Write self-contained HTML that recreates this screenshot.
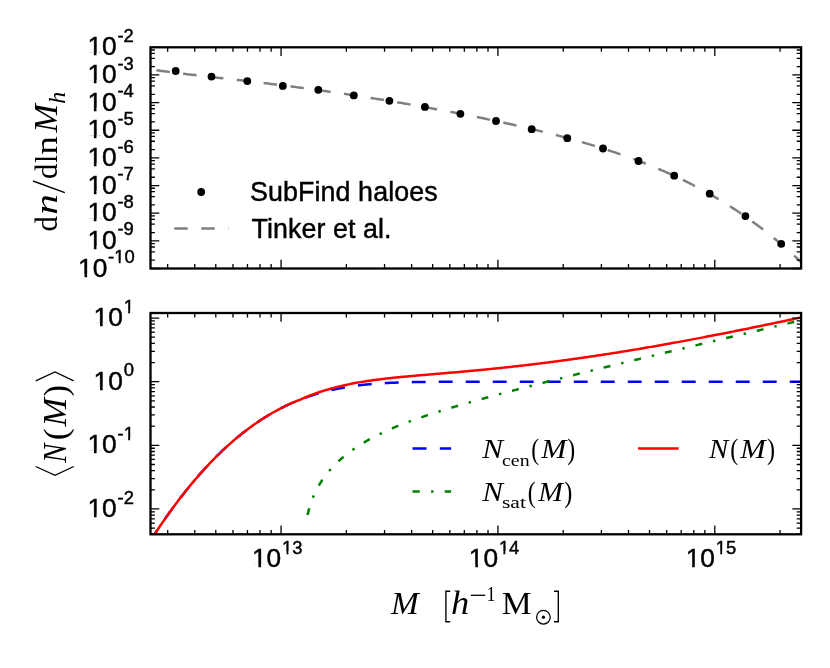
<!DOCTYPE html>
<html><head><meta charset="utf-8"><title>HOD</title>
<style>html,body{margin:0;padding:0;background:#fff;}svg{display:block;will-change:transform;}text{font-family:"Liberation Sans",sans-serif;fill:#000;stroke:#000;stroke-width:0.45px;}.s{font-family:"Liberation Serif",serif;stroke:none;}.i{font-family:"Liberation Serif",serif;font-style:italic;stroke:none;}</style></head><body>
<svg width="830" height="668" viewBox="0 0 830 668">
<rect x="0" y="0" width="830" height="668" fill="#ffffff"/>
<defs>
<clipPath id="c1"><rect x="150.5" y="47.3" width="650.6" height="221.2"/></clipPath>
<clipPath id="c2"><rect x="150.5" y="313" width="650.6" height="221.3"/></clipPath>
</defs>
<g clip-path="url(#c1)">
<path d="M156.4 70.2L158.94 70.56L161.49 70.91L164.03 71.25L166.57 71.59L169.11 71.93L171.66 72.26L174.2 72.58L176.74 72.9L179.29 73.22L181.83 73.53L184.37 73.84L186.91 74.15L189.46 74.46L192 74.76L194.54 75.06L197.09 75.36L199.63 75.65L202.17 75.95L204.71 76.24L207.26 76.53L209.8 76.83L212.34 77.12L214.89 77.41L217.43 77.7L219.97 77.98L222.51 78.27L225.06 78.56L227.6 78.85L230.14 79.14L232.69 79.43L235.23 79.72L237.77 80.01L240.31 80.31L242.86 80.6L245.4 80.89L247.94 81.19L250.49 81.48L253.03 81.78L255.57 82.08L258.11 82.38L260.66 82.68L263.2 82.99L265.74 83.29L268.29 83.6L270.83 83.91L273.37 84.22L275.91 84.54L278.46 84.85L281 85.17L283.54 85.49L286.09 85.81L288.63 86.13L291.17 86.46L293.71 86.79L296.26 87.12L298.8 87.45L301.34 87.79L303.89 88.13L306.43 88.47L308.97 88.81L311.51 89.16L314.06 89.5L316.6 89.86L319.14 90.21L321.69 90.56L324.23 90.92L326.77 91.28L329.31 91.64L331.86 92.01L334.4 92.38L336.94 92.75L339.49 93.12L342.03 93.5L344.57 93.88L347.11 94.26L349.66 94.64L352.2 95.03L354.74 95.41L357.29 95.8L359.83 96.2L362.37 96.59L364.91 96.99L367.46 97.39L370 97.8L372.54 98.2L375.09 98.61L377.63 99.02L380.17 99.44L382.71 99.85L385.26 100.27L387.8 100.69L390.34 101.11L392.89 101.54L395.43 101.97L397.97 102.4L400.51 102.83L403.06 103.27L405.6 103.7L408.14 104.14L410.69 104.59L413.23 105.03L415.77 105.48L418.31 105.93L420.86 106.38L423.4 106.84L425.94 107.3L428.49 107.76L431.03 108.22L433.57 108.69L436.11 109.15L438.66 109.62L441.2 110.1L443.74 110.57L446.29 111.05L448.83 111.53L451.37 112.02L453.91 112.51L456.46 113L459 113.49L461.54 113.98L464.09 114.48L466.63 114.99L469.17 115.49L471.71 116L474.26 116.51L476.8 117.02L479.34 117.54L481.89 118.06L484.43 118.59L486.97 119.11L489.51 119.64L492.06 120.18L494.6 120.72L497.14 121.26L499.69 121.8L502.23 122.35L504.77 122.91L507.31 123.47L509.86 124.03L512.4 124.59L514.94 125.16L517.49 125.74L520.03 126.32L522.57 126.9L525.11 127.49L527.66 128.08L530.2 128.68L532.74 129.29L535.29 129.9L537.83 130.51L540.37 131.13L542.91 131.76L545.46 132.39L548 133.02L550.54 133.67L553.09 134.32L555.63 134.97L558.17 135.63L560.71 136.3L563.26 136.98L565.8 137.66L568.34 138.35L570.89 139.04L573.43 139.75L575.97 140.46L578.51 141.18L581.06 141.9L583.6 142.64L586.14 143.38L588.69 144.14L591.23 144.9L593.77 145.67L596.31 146.44L598.86 147.23L601.4 148.03L603.94 148.84L606.49 149.65L609.03 150.48L611.57 151.32L614.11 152.16L616.66 153.02L619.2 153.89L621.74 154.77L624.29 155.67L626.83 156.57L629.37 157.49L631.91 158.41L634.46 159.35L637 160.31L639.54 161.27L642.09 162.25L644.63 163.24L647.17 164.25L649.71 165.27L652.26 166.3L654.8 167.35L657.34 168.42L659.89 169.5L662.43 170.59L664.97 171.7L667.51 172.82L670.06 173.97L672.6 175.12L675.14 176.3L677.69 177.49L680.23 178.7L682.77 179.92L685.31 181.17L687.86 182.43L690.4 183.71L692.94 185.01L695.49 186.33L698.03 187.67L700.57 189.03L703.11 190.4L705.66 191.8L708.2 193.22L710.74 194.66L713.29 196.12L715.83 197.61L718.37 199.11L720.91 200.64L723.46 202.19L726 203.76L728.54 205.35L731.09 206.97L733.63 208.62L736.17 210.29L738.71 211.98L741.26 213.69L743.8 215.44L746.34 217.2L748.89 219L751.43 220.82L753.97 222.67L756.51 224.54L759.06 226.44L761.6 228.37L764.14 230.33L766.69 232.31L769.23 234.32L771.77 236.37L774.31 238.44L776.86 240.54L779.4 242.67L781.94 244.84L784.49 247.03L787.03 249.25L789.57 251.51L792.11 253.8L794.66 256.12L797.2 258.47L799.74 260.85L802.29 263.27L804.83 265.72L807.37 268.21L809.91 270.73L812.46 273.28L815 275.87" stroke="#808080" stroke-width="2.5" fill="none" stroke-dasharray="13.5 13.5"/>
<circle cx="175.7" cy="71" r="3.9" fill="#000"/>
<circle cx="211.5" cy="76.6" r="3.9" fill="#000"/>
<circle cx="247.3" cy="81.1" r="3.9" fill="#000"/>
<circle cx="282.8" cy="85.9" r="3.9" fill="#000"/>
<circle cx="318.3" cy="89.8" r="3.9" fill="#000"/>
<circle cx="353.8" cy="95.4" r="3.9" fill="#000"/>
<circle cx="389.4" cy="100.8" r="3.9" fill="#000"/>
<circle cx="424.9" cy="106.9" r="3.9" fill="#000"/>
<circle cx="460.4" cy="113.8" r="3.9" fill="#000"/>
<circle cx="496" cy="121" r="3.9" fill="#000"/>
<circle cx="531.7" cy="129.2" r="3.9" fill="#000"/>
<circle cx="567.3" cy="138.2" r="3.9" fill="#000"/>
<circle cx="603" cy="148.5" r="3.9" fill="#000"/>
<circle cx="638.5" cy="161" r="3.9" fill="#000"/>
<circle cx="674.2" cy="175.7" r="3.9" fill="#000"/>
<circle cx="709.7" cy="193.7" r="3.9" fill="#000"/>
<circle cx="745.4" cy="216.1" r="3.9" fill="#000"/>
<circle cx="781.2" cy="243.8" r="3.9" fill="#000"/>
</g>
<g clip-path="url(#c2)" fill="none">
<path d="M139.66 558L141 555.79L142.33 553.6L143.67 551.42L145.01 549.26L146.35 547.12L147.69 544.99L149.03 542.88L150.37 540.78L151.7 538.7L153.04 536.63L154.38 534.58L155.72 532.55L157.06 530.53L158.4 528.53L159.74 526.54L161.07 524.57L162.41 522.62L163.75 520.68L165.09 518.75L166.43 516.84L167.77 514.95L169.11 513.07L170.44 511.21L171.78 509.37L173.12 507.54L174.46 505.72L175.8 503.92L177.14 502.14L178.48 500.37L179.81 498.61L181.15 496.88L182.49 495.15L183.83 493.44L185.17 491.75L186.51 490.08L187.85 488.41L189.18 486.77L190.52 485.14L191.86 483.52L193.2 481.92L194.54 480.33L195.88 478.76L197.22 477.21L198.55 475.67L199.89 474.14L201.23 472.63L202.57 471.13L203.91 469.65L205.25 468.19L206.59 466.74L207.92 465.3L209.26 463.88L210.6 462.47L211.94 461.08L213.28 459.7L214.62 458.34L215.96 456.99L217.29 455.66L218.63 454.34L219.97 453.04L221.31 451.75L222.65 450.47L223.99 449.21L225.33 447.96L226.66 446.73L228 445.51L229.34 444.31L230.68 443.12L232.02 441.95L233.36 440.78L234.7 439.64L236.03 438.5L237.37 437.39L238.71 436.28L240.05 435.19L241.39 434.11L242.73 433.05L244.07 432L245.4 430.96L246.74 429.94L248.08 428.93L249.42 427.94L250.76 426.96L252.1 425.99L253.44 425.03L254.77 424.09L256.11 423.16L257.45 422.25L258.79 421.35L260.13 420.46L261.47 419.58L262.81 418.72L264.14 417.87L265.48 417.03L266.82 416.21L268.16 415.4L269.5 414.6L270.84 413.81L272.18 413.04L273.51 412.28L274.85 411.53L276.19 410.79L277.53 410.07L278.87 409.36L280.21 408.66L281.55 407.97L282.88 407.29L284.22 406.63L285.56 405.98L286.9 405.34L288.24 404.71L289.58 404.09L290.92 403.48L292.25 402.89L293.59 402.31L294.93 401.73L296.27 401.17L297.61 400.62L298.95 400.08L300.29 399.55L301.62 399.03L302.96 398.53L304.3 398.03L305.64 397.54L306.98 397.07L308.32 396.6L309.66 396.15L310.99 395.7L312.33 395.26L313.67 394.84L315.01 394.42L316.35 394.01L317.69 393.62L319.03 393.23L320.36 392.85L321.7 392.48L323.04 392.12L324.38 391.76L325.72 391.42L327.06 391.09L328.4 390.76L329.73 390.44L331.07 390.13L332.41 389.83L333.75 389.54L335.09 389.25L336.43 388.98L337.77 388.71L339.1 388.45L340.44 388.19L341.78 387.94L343.12 387.7L344.46 387.47L345.8 387.24L347.14 387.02L348.47 386.81L349.81 386.61L351.15 386.41L352.49 386.21L353.83 386.03L355.17 385.85L356.51 385.67L357.84 385.5L359.18 385.34L360.52 385.18L361.86 385.03L363.2 384.88L364.54 384.74L365.88 384.6L367.21 384.47L368.55 384.34L369.89 384.22L371.23 384.1L372.57 383.99L373.91 383.88L375.25 383.77L376.58 383.67L377.92 383.58L379.26 383.48L380.6 383.39L381.94 383.31L383.28 383.23L384.62 383.15L385.95 383.07L387.29 383L388.63 382.93L389.97 382.87L391.31 382.8L392.65 382.74L393.99 382.69L395.32 382.63L396.66 382.58L398 382.53L399.34 382.48L400.68 382.44L402.02 382.4L403.36 382.35L404.69 382.32L406.03 382.28L407.37 382.24L408.71 382.21L410.05 382.18L411.39 382.15L412.73 382.12L414.06 382.09L415.4 382.07L416.74 382.04L418.08 382.02L419.42 382L420.76 381.98L422.1 381.96L423.43 381.94L424.77 381.93L426.11 381.91L427.45 381.9L428.79 381.88L430.13 381.87L431.47 381.86L432.8 381.84L434.14 381.83L435.48 381.82L436.82 381.81L438.16 381.8L439.5 381.8L440.84 381.79L442.17 381.78L443.51 381.77L444.85 381.77L446.19 381.76L447.53 381.75L448.87 381.75L450.21 381.74L451.54 381.74L452.88 381.74L454.22 381.73L455.56 381.73L456.9 381.72L458.24 381.72L459.58 381.72L460.91 381.72L462.25 381.71L463.59 381.71L464.93 381.71L466.27 381.71L467.61 381.7L468.95 381.7L470.28 381.7L471.62 381.7L472.96 381.7L474.3 381.7L475.64 381.7L476.98 381.7L478.32 381.69L479.65 381.69L480.99 381.69L482.33 381.69L483.67 381.69L485.01 381.69L486.35 381.69L487.69 381.69L489.02 381.69L490.36 381.69L491.7 381.69L493.04 381.69L494.38 381.69L495.72 381.69L497.06 381.69L498.39 381.69L499.73 381.69L501.07 381.69L502.41 381.69L503.75 381.69L505.09 381.69L506.43 381.69L507.77 381.69L509.1 381.69L510.44 381.69L511.78 381.68L513.12 381.68L514.46 381.68L515.8 381.68L517.14 381.68L518.47 381.68L519.81 381.68L521.15 381.68L522.49 381.68L523.83 381.68L525.17 381.68L526.51 381.68L527.84 381.68L529.18 381.68L530.52 381.68L531.86 381.68L533.2 381.68L534.54 381.68L535.88 381.68L537.21 381.68L538.55 381.68L539.89 381.68L541.23 381.68L542.57 381.68L543.91 381.68L545.25 381.68L546.58 381.68L547.92 381.68L549.26 381.68L550.6 381.68L551.94 381.68L553.28 381.68L554.62 381.68L555.95 381.68L557.29 381.68L558.63 381.68L559.97 381.68L561.31 381.68L562.65 381.68L563.99 381.68L565.32 381.68L566.66 381.68L568 381.68L569.34 381.68L570.68 381.68L572.02 381.68L573.36 381.68L574.69 381.68L576.03 381.68L577.37 381.68L578.71 381.68L580.05 381.68L581.39 381.68L582.73 381.68L584.06 381.68L585.4 381.68L586.74 381.68L588.08 381.68L589.42 381.68L590.76 381.68L592.1 381.68L593.43 381.68L594.77 381.68L596.11 381.68L597.45 381.68L598.79 381.68L600.13 381.68L601.47 381.68L602.8 381.68L604.14 381.68L605.48 381.68L606.82 381.68L608.16 381.68L609.5 381.68L610.84 381.68L612.17 381.68L613.51 381.68L614.85 381.68L616.19 381.68L617.53 381.68L618.87 381.68L620.21 381.68L621.54 381.68L622.88 381.68L624.22 381.68L625.56 381.68L626.9 381.68L628.24 381.68L629.58 381.68L630.91 381.68L632.25 381.68L633.59 381.68L634.93 381.68L636.27 381.68L637.61 381.68L638.95 381.68L640.28 381.68L641.62 381.68L642.96 381.68L644.3 381.68L645.64 381.68L646.98 381.68L648.32 381.68L649.65 381.68L650.99 381.68L652.33 381.68L653.67 381.68L655.01 381.68L656.35 381.68L657.69 381.68L659.02 381.68L660.36 381.68L661.7 381.68L663.04 381.68L664.38 381.68L665.72 381.68L667.06 381.68L668.39 381.68L669.73 381.68L671.07 381.68L672.41 381.68L673.75 381.68L675.09 381.68L676.43 381.68L677.76 381.68L679.1 381.68L680.44 381.68L681.78 381.68L683.12 381.68L684.46 381.68L685.8 381.68L687.13 381.68L688.47 381.68L689.81 381.68L691.15 381.68L692.49 381.68L693.83 381.68L695.17 381.68L696.5 381.68L697.84 381.68L699.18 381.68L700.52 381.68L701.86 381.68L703.2 381.68L704.54 381.68L705.87 381.68L707.21 381.68L708.55 381.68L709.89 381.68L711.23 381.68L712.57 381.68L713.91 381.68L715.24 381.68L716.58 381.68L717.92 381.68L719.26 381.68L720.6 381.68L721.94 381.68L723.28 381.68L724.61 381.68L725.95 381.68L727.29 381.68L728.63 381.68L729.97 381.68L731.31 381.68L732.65 381.68L733.98 381.68L735.32 381.68L736.66 381.68L738 381.68L739.34 381.68L740.68 381.68L742.02 381.68L743.35 381.68L744.69 381.68L746.03 381.68L747.37 381.68L748.71 381.68L750.05 381.68L751.39 381.68L752.72 381.68L754.06 381.68L755.4 381.68L756.74 381.68L758.08 381.68L759.42 381.68L760.76 381.68L762.09 381.68L763.43 381.68L764.77 381.68L766.11 381.68L767.45 381.68L768.79 381.68L770.13 381.68L771.46 381.68L772.8 381.68L774.14 381.68L775.48 381.68L776.82 381.68L778.16 381.68L779.5 381.68L780.83 381.68L782.17 381.68L783.51 381.68L784.85 381.68L786.19 381.68L787.53 381.68L788.87 381.68L790.2 381.68L791.54 381.68L792.88 381.68L794.22 381.68L795.56 381.68L796.9 381.68L798.24 381.68L799.57 381.68L800.91 381.68L802.25 381.68L803.59 381.68L804.93 381.68L806.27 381.68L807.61 381.68" stroke="#0000ff" stroke-width="2.5" stroke-dasharray="13.9 13.1" stroke-dashoffset="7.87"/>
<path d="M307.56 514.99L307.78 514.03L308 513.12L308.21 512.22L308.43 511.36L308.65 510.52L308.87 509.71L309.09 508.92L309.3 508.15L309.52 507.4L309.74 506.67L309.96 505.95L310.18 505.26L310.39 504.58L310.61 503.91L310.83 503.26L311.05 502.62L311.27 502L311.48 501.38L311.7 500.78L311.92 500.2L312.14 499.62L312.36 499.05L312.57 498.49L312.79 497.95L313.01 497.41L313.23 496.88L313.45 496.36L313.66 495.84L313.88 495.34L314.1 494.84L314.32 494.35L314.54 493.87L314.75 493.39L314.97 492.93L315.19 492.46L315.41 492.01L315.63 491.56L315.84 491.11L316.06 490.67L316.28 490.24L316.5 489.81L316.72 489.39L316.93 488.98L317.15 488.56L317.37 488.16L317.59 487.75L317.8 487.36L318.02 486.96L318.24 486.57L318.46 486.19L318.68 485.81L318.89 485.43L319.11 485.06L319.33 484.69L319.55 484.32L319.77 483.96L319.98 483.6L320.2 483.25L320.42 482.9L320.64 482.55L320.86 482.2L321.07 481.86L321.29 481.52L321.51 481.19L321.73 480.86L321.95 480.53L322.16 480.2L322.38 479.88L322.6 479.55L322.82 479.24L323.04 478.92L323.25 478.61L323.47 478.3L323.69 477.99L323.91 477.68L324.13 477.38L324.34 477.08L324.56 476.78L324.78 476.49L325 476.19L325.22 475.9L325.43 475.61L325.65 475.32L325.87 475.04L326.09 474.75L326.31 474.47L326.52 474.19L326.74 473.92L326.96 473.64L327.18 473.37L327.39 473.1L327.61 472.83L327.83 472.56L328.05 472.29L328.27 472.03L328.48 471.77L328.7 471.51L328.92 471.25L329.14 470.99L329.36 470.73L329.57 470.48L329.79 470.23L330.01 469.98L330.23 469.73L330.45 469.48L330.66 469.23L330.88 468.99L331.1 468.74L331.32 468.5L331.54 468.26L331.75 468.02L331.97 467.78L332.19 467.55L332.41 467.31L332.63 467.08L332.84 466.85L333.06 466.62L333.28 466.39L333.5 466.16L333.72 465.93L333.93 465.7L334.15 465.48L334.37 465.26L334.59 465.03L334.81 464.81L335.02 464.59L335.24 464.37L335.46 464.16L335.68 463.94L335.9 463.72L336.11 463.51L336.33 463.3L336.55 463.09L336.77 462.87L336.99 462.66L337.2 462.46L337.42 462.25L337.64 462.04L337.86 461.83L338.07 461.63L338.29 461.43L338.51 461.22L338.73 461.02L338.95 460.82L339.16 460.62L339.38 460.42L339.6 460.22L339.82 460.03L340.04 459.83L340.25 459.64L340.47 459.44L340.69 459.25L340.91 459.06L341.13 458.86L341.34 458.67L341.56 458.48L341.78 458.29L342 458.11L342.22 457.92L342.43 457.73L342.65 457.55L342.87 457.36L343.09 457.18L343.31 456.99L343.52 456.81L343.74 456.63L343.96 456.45L344.18 456.27L344.4 456.09L344.61 455.91L344.83 455.73L345.05 455.55L345.27 455.38L345.49 455.2L345.7 455.03L345.92 454.85L346.14 454.68L346.36 454.51L346.58 454.34L346.79 454.16L347.01 453.99L347.23 453.82L347.45 453.65L347.66 453.49L347.88 453.32L348.1 453.15L348.32 452.98L348.54 452.82L348.75 452.65L348.97 452.49L349.19 452.32L349.41 452.16L349.63 452L349.84 451.83L350.06 451.67L350.28 451.51L350.5 451.35L350.72 451.19L350.93 451.03L352.08 450.21L353.22 449.4L354.37 448.6L355.51 447.82L356.66 447.06L357.8 446.31L358.95 445.57L360.09 444.84L361.24 444.13L362.38 443.42L363.52 442.73L364.67 442.06L365.81 441.39L366.96 440.73L368.1 440.08L369.25 439.44L370.39 438.82L371.54 438.2L372.68 437.59L373.83 436.99L374.97 436.39L376.11 435.81L377.26 435.23L378.4 434.66L379.55 434.1L380.69 433.55L381.84 433L382.98 432.46L384.13 431.93L385.27 431.4L386.41 430.88L387.56 430.37L388.7 429.86L389.85 429.36L390.99 428.86L392.14 428.37L393.28 427.88L394.43 427.4L395.57 426.92L396.72 426.45L397.86 425.99L399 425.53L400.15 425.07L401.29 424.62L402.44 424.17L403.58 423.72L404.73 423.28L405.87 422.85L407.02 422.41L408.16 421.99L409.31 421.56L410.45 421.14L411.59 420.72L412.74 420.3L413.88 419.89L415.03 419.48L416.17 419.08L417.32 418.68L418.46 418.28L419.61 417.88L420.75 417.48L421.9 417.09L423.04 416.7L424.18 416.32L425.33 415.93L426.47 415.55L427.62 415.17L428.76 414.79L429.91 414.42L431.05 414.05L432.2 413.68L433.34 413.31L434.49 412.94L435.63 412.57L436.77 412.21L437.92 411.85L439.06 411.49L440.21 411.13L441.35 410.78L442.5 410.42L443.64 410.07L444.79 409.72L445.93 409.37L447.08 409.02L448.22 408.67L449.36 408.32L450.51 407.98L451.65 407.64L452.8 407.29L453.94 406.95L455.09 406.61L456.23 406.28L457.38 405.94L458.52 405.6L459.67 405.27L460.81 404.93L461.95 404.6L463.1 404.27L464.24 403.94L465.39 403.61L466.53 403.28L467.68 402.95L468.82 402.63L469.97 402.3L471.11 401.98L472.26 401.65L473.4 401.33L474.54 401.01L475.69 400.69L476.83 400.36L477.98 400.04L479.12 399.73L480.27 399.41L481.41 399.09L482.56 398.77L483.7 398.46L484.85 398.14L485.99 397.82L487.13 397.51L488.28 397.2L489.42 396.88L490.57 396.57L491.71 396.26L492.86 395.95L494 395.64L495.15 395.33L496.29 395.02L497.44 394.71L498.58 394.4L499.72 394.09L500.87 393.79L502.01 393.48L503.16 393.17L504.3 392.87L505.45 392.56L506.59 392.26L507.74 391.95L508.88 391.65L510.03 391.35L511.17 391.04L512.31 390.74L513.46 390.44L514.6 390.14L515.75 389.84L516.89 389.54L518.04 389.24L519.18 388.94L520.33 388.64L521.47 388.34L522.62 388.04L523.76 387.74L524.9 387.44L526.05 387.15L527.19 386.85L528.34 386.55L529.48 386.26L530.63 385.96L531.77 385.67L532.92 385.37L534.06 385.08L535.21 384.78L536.35 384.49L537.49 384.19L538.64 383.9L539.78 383.61L540.93 383.31L542.07 383.02L543.22 382.73L544.36 382.44L545.51 382.14L546.65 381.85L547.8 381.56L548.94 381.27L550.08 380.98L551.23 380.69L552.37 380.4L553.52 380.11L554.66 379.82L555.81 379.53L556.95 379.24L558.1 378.95L559.24 378.67L560.39 378.38L561.53 378.09L562.67 377.8L563.82 377.51L564.96 377.23L566.11 376.94L567.25 376.65L568.4 376.37L569.54 376.08L570.69 375.79L571.83 375.51L572.98 375.22L574.12 374.94L575.26 374.65L576.41 374.36L577.55 374.08L578.7 373.8L579.84 373.51L580.99 373.23L582.13 372.94L583.28 372.66L584.42 372.37L585.57 372.09L586.71 371.81L587.85 371.52L589 371.24L590.14 370.96L591.29 370.67L592.43 370.39L593.58 370.11L594.72 369.83L595.87 369.54L597.01 369.26L598.16 368.98L599.3 368.7L600.44 368.42L601.59 368.14L602.73 367.86L603.88 367.57L605.02 367.29L606.17 367.01L607.31 366.73L608.46 366.45L609.6 366.17L610.74 365.89L611.89 365.61L613.03 365.33L614.18 365.05L615.32 364.77L616.47 364.49L617.61 364.21L618.76 363.93L619.9 363.65L621.05 363.37L622.19 363.09L623.33 362.82L624.48 362.54L625.62 362.26L626.77 361.98L627.91 361.7L629.06 361.42L630.2 361.15L631.35 360.87L632.49 360.59L633.64 360.31L634.78 360.03L635.92 359.76L637.07 359.48L638.21 359.2L639.36 358.92L640.5 358.65L641.65 358.37L642.79 358.09L643.94 357.81L645.08 357.54L646.23 357.26L647.37 356.98L648.51 356.71L649.66 356.43L650.8 356.15L651.95 355.88L653.09 355.6L654.24 355.33L655.38 355.05L656.53 354.77L657.67 354.5L658.82 354.22L659.96 353.95L661.1 353.67L662.25 353.39L663.39 353.12L664.54 352.84L665.68 352.57L666.83 352.29L667.97 352.02L669.12 351.74L670.26 351.47L671.41 351.19L672.55 350.92L673.69 350.64L674.84 350.37L675.98 350.09L677.13 349.82L678.27 349.54L679.42 349.27L680.56 348.99L681.71 348.72L682.85 348.44L684 348.17L685.14 347.9L686.28 347.62L687.43 347.35L688.57 347.07L689.72 346.8L690.86 346.52L692.01 346.25L693.15 345.98L694.3 345.7L695.44 345.43L696.59 345.15L697.73 344.88L698.87 344.61L700.02 344.33L701.16 344.06L702.31 343.79L703.45 343.51L704.6 343.24L705.74 342.97L706.89 342.69L708.03 342.42L709.18 342.15L710.32 341.87L711.46 341.6L712.61 341.33L713.75 341.05L714.9 340.78L716.04 340.51L717.19 340.23L718.33 339.96L719.48 339.69L720.62 339.42L721.77 339.14L722.91 338.87L724.05 338.6L725.2 338.32L726.34 338.05L727.49 337.78L728.63 337.51L729.78 337.23L730.92 336.96L732.07 336.69L733.21 336.42L734.36 336.14L735.5 335.87L736.64 335.6L737.79 335.33L738.93 335.06L740.08 334.78L741.22 334.51L742.37 334.24L743.51 333.97L744.66 333.69L745.8 333.42L746.95 333.15L748.09 332.88L749.23 332.61L750.38 332.33L751.52 332.06L752.67 331.79L753.81 331.52L754.96 331.25L756.1 330.97L757.25 330.7L758.39 330.43L759.54 330.16L760.68 329.89L761.82 329.62L762.97 329.34L764.11 329.07L765.26 328.8L766.4 328.53L767.55 328.26L768.69 327.99L769.84 327.71L770.98 327.44L772.13 327.17L773.27 326.9L774.41 326.63L775.56 326.36L776.7 326.09L777.85 325.81L778.99 325.54L780.14 325.27L781.28 325L782.43 324.73L783.57 324.46L784.72 324.19L785.86 323.92L787 323.64L788.15 323.37L789.29 323.1L790.44 322.83L791.58 322.56L792.73 322.29L793.87 322.02L795.02 321.75L796.16 321.48L797.31 321.2L798.45 320.93L799.59 320.66L800.74 320.39L801.88 320.12L803.03 319.85L804.17 319.58L805.32 319.31L806.46 319.04L807.61 318.77" stroke="#008000" stroke-width="2.5" stroke-dasharray="6.95 11.05 2.45 11.05"/>
<path d="M139.66 558L141 555.79L142.33 553.6L143.67 551.42L145.01 549.26L146.35 547.12L147.69 544.99L149.03 542.88L150.37 540.78L151.7 538.7L153.04 536.63L154.38 534.58L155.72 532.55L157.06 530.53L158.4 528.53L159.74 526.54L161.07 524.57L162.41 522.62L163.75 520.68L165.09 518.75L166.43 516.84L167.77 514.95L169.11 513.07L170.44 511.21L171.78 509.37L173.12 507.54L174.46 505.72L175.8 503.92L177.14 502.14L178.48 500.37L179.81 498.61L181.15 496.88L182.49 495.15L183.83 493.44L185.17 491.75L186.51 490.08L187.85 488.41L189.18 486.77L190.52 485.14L191.86 483.52L193.2 481.92L194.54 480.33L195.88 478.76L197.22 477.21L198.55 475.67L199.89 474.14L201.23 472.63L202.57 471.13L203.91 469.65L205.25 468.19L206.59 466.74L207.92 465.3L209.26 463.88L210.6 462.47L211.94 461.08L213.28 459.7L214.62 458.34L215.96 456.99L217.29 455.66L218.63 454.34L219.97 453.04L221.31 451.75L222.65 450.47L223.99 449.21L225.33 447.96L226.66 446.73L228 445.51L229.34 444.31L230.68 443.12L232.02 441.95L233.36 440.78L234.7 439.64L236.03 438.5L237.37 437.39L238.71 436.28L240.05 435.19L241.39 434.11L242.73 433.05L244.07 432L245.4 430.96L246.74 429.94L248.08 428.93L249.42 427.94L250.76 426.96L252.1 425.99L253.44 425.03L254.77 424.09L256.11 423.16L257.45 422.25L258.79 421.35L260.13 420.46L261.47 419.58L262.81 418.72L264.14 417.87L265.48 417.03L266.82 416.21L268.16 415.4L269.5 414.6L270.84 413.81L272.18 413.04L273.51 412.28L274.85 411.53L276.19 410.79L277.53 410.07L278.87 409.36L280.21 408.66L281.55 407.97L282.88 407.29L284.22 406.63L285.56 405.98L286.9 405.34L288.24 404.71L289.58 404.09L290.92 403.48L292.25 402.89L293.59 402.31L294.93 401.73L296.27 401.17L297.61 400.62L298.95 400.08L300.29 399.55L301.62 399.03L302.96 398.43L304.3 397.84L305.64 397.27L306.98 396.72L308.32 396.18L309.66 395.65L310.99 395.13L312.33 394.63L313.67 394.13L315.01 393.65L316.35 393.17L317.69 392.71L319.03 392.25L320.36 391.81L321.7 391.37L323.04 390.95L324.38 390.53L325.72 390.12L327.06 389.72L328.4 389.33L329.73 388.95L331.07 388.57L332.41 388.21L333.75 387.85L335.09 387.5L336.43 387.15L337.77 386.82L339.1 386.49L340.44 386.17L341.78 385.86L343.12 385.55L344.46 385.25L345.8 384.96L347.14 384.67L348.47 384.39L349.81 384.11L351.15 383.85L352.49 383.58L353.83 383.33L355.17 383.08L356.51 382.83L357.84 382.59L359.18 382.36L360.52 382.13L361.86 381.91L363.2 381.69L364.54 381.47L365.88 381.26L367.21 381.06L368.55 380.86L369.89 380.66L371.23 380.47L372.57 380.28L373.91 380.1L375.25 379.92L376.58 379.74L377.92 379.57L379.26 379.4L380.6 379.23L381.94 379.07L383.28 378.9L384.62 378.75L385.95 378.59L387.29 378.44L388.63 378.29L389.97 378.14L391.31 378L392.65 377.86L393.99 377.72L395.32 377.58L396.66 377.44L398 377.31L399.34 377.17L400.68 377.04L402.02 376.91L403.36 376.79L404.69 376.66L406.03 376.53L407.37 376.41L408.71 376.29L410.05 376.17L411.39 376.05L412.73 375.93L414.06 375.81L415.4 375.69L416.74 375.57L418.08 375.46L419.42 375.34L420.76 375.23L422.1 375.11L423.43 375L424.77 374.88L426.11 374.77L427.45 374.66L428.79 374.54L430.13 374.43L431.47 374.32L432.8 374.2L434.14 374.09L435.48 373.98L436.82 373.87L438.16 373.75L439.5 373.64L440.84 373.53L442.17 373.41L443.51 373.3L444.85 373.19L446.19 373.07L447.53 372.96L448.87 372.84L450.21 372.73L451.54 372.61L452.88 372.49L454.22 372.38L455.56 372.26L456.9 372.14L458.24 372.03L459.58 371.91L460.91 371.79L462.25 371.67L463.59 371.55L464.93 371.43L466.27 371.31L467.61 371.18L468.95 371.06L470.28 370.94L471.62 370.81L472.96 370.69L474.3 370.56L475.64 370.44L476.98 370.31L478.32 370.18L479.65 370.05L480.99 369.93L482.33 369.8L483.67 369.67L485.01 369.53L486.35 369.4L487.69 369.27L489.02 369.14L490.36 369L491.7 368.87L493.04 368.73L494.38 368.59L495.72 368.46L497.06 368.32L498.39 368.18L499.73 368.04L501.07 367.9L502.41 367.76L503.75 367.62L505.09 367.47L506.43 367.33L507.77 367.18L509.1 367.04L510.44 366.89L511.78 366.74L513.12 366.6L514.46 366.45L515.8 366.3L517.14 366.15L518.47 366L519.81 365.84L521.15 365.69L522.49 365.54L523.83 365.38L525.17 365.23L526.51 365.07L527.84 364.91L529.18 364.75L530.52 364.59L531.86 364.43L533.2 364.27L534.54 364.11L535.88 363.95L537.21 363.79L538.55 363.62L539.89 363.46L541.23 363.29L542.57 363.12L543.91 362.96L545.25 362.79L546.58 362.62L547.92 362.45L549.26 362.28L550.6 362.1L551.94 361.93L553.28 361.76L554.62 361.58L555.95 361.41L557.29 361.23L558.63 361.06L559.97 360.88L561.31 360.7L562.65 360.52L563.99 360.34L565.32 360.16L566.66 359.98L568 359.79L569.34 359.61L570.68 359.42L572.02 359.24L573.36 359.05L574.69 358.86L576.03 358.68L577.37 358.49L578.71 358.3L580.05 358.11L581.39 357.92L582.73 357.72L584.06 357.53L585.4 357.34L586.74 357.14L588.08 356.95L589.42 356.75L590.76 356.55L592.1 356.36L593.43 356.16L594.77 355.96L596.11 355.76L597.45 355.56L598.79 355.35L600.13 355.15L601.47 354.95L602.8 354.74L604.14 354.54L605.48 354.33L606.82 354.13L608.16 353.92L609.5 353.71L610.84 353.5L612.17 353.29L613.51 353.08L614.85 352.87L616.19 352.66L617.53 352.44L618.87 352.23L620.21 352.02L621.54 351.8L622.88 351.58L624.22 351.37L625.56 351.15L626.9 350.93L628.24 350.71L629.58 350.49L630.91 350.27L632.25 350.05L633.59 349.83L634.93 349.61L636.27 349.38L637.61 349.16L638.95 348.93L640.28 348.71L641.62 348.48L642.96 348.26L644.3 348.03L645.64 347.8L646.98 347.57L648.32 347.34L649.65 347.11L650.99 346.88L652.33 346.65L653.67 346.42L655.01 346.18L656.35 345.95L657.69 345.71L659.02 345.48L660.36 345.24L661.7 345.01L663.04 344.77L664.38 344.53L665.72 344.29L667.06 344.05L668.39 343.81L669.73 343.57L671.07 343.33L672.41 343.09L673.75 342.85L675.09 342.6L676.43 342.36L677.76 342.12L679.1 341.87L680.44 341.63L681.78 341.38L683.12 341.13L684.46 340.89L685.8 340.64L687.13 340.39L688.47 340.14L689.81 339.89L691.15 339.64L692.49 339.39L693.83 339.14L695.17 338.89L696.5 338.64L697.84 338.38L699.18 338.13L700.52 337.87L701.86 337.62L703.2 337.36L704.54 337.11L705.87 336.85L707.21 336.6L708.55 336.34L709.89 336.08L711.23 335.82L712.57 335.56L713.91 335.3L715.24 335.04L716.58 334.78L717.92 334.52L719.26 334.26L720.6 334L721.94 333.74L723.28 333.47L724.61 333.21L725.95 332.95L727.29 332.68L728.63 332.42L729.97 332.15L731.31 331.89L732.65 331.62L733.98 331.35L735.32 331.08L736.66 330.82L738 330.55L739.34 330.28L740.68 330.01L742.02 329.74L743.35 329.47L744.69 329.2L746.03 328.93L747.37 328.66L748.71 328.39L750.05 328.12L751.39 327.84L752.72 327.57L754.06 327.3L755.4 327.02L756.74 326.75L758.08 326.47L759.42 326.2L760.76 325.92L762.09 325.65L763.43 325.37L764.77 325.1L766.11 324.82L767.45 324.54L768.79 324.26L770.13 323.99L771.46 323.71L772.8 323.43L774.14 323.15L775.48 322.87L776.82 322.59L778.16 322.31L779.5 322.03L780.83 321.75L782.17 321.47L783.51 321.19L784.85 320.91L786.19 320.62L787.53 320.34L788.87 320.06L790.2 319.77L791.54 319.49L792.88 319.21L794.22 318.92L795.56 318.64L796.9 318.35L798.24 318.07L799.57 317.78L800.91 317.5L802.25 317.21L803.59 316.93L804.93 316.64L806.27 316.35L807.61 316.06" stroke="#ff0000" stroke-width="2.5"/>
</g>
<path d="M281.07 268.5V259.7M281.07 47.3V56.1M497.93 268.5V259.7M497.93 47.3V56.1M714.8 268.5V259.7M714.8 47.3V56.1M167.67 268.5V264.1M167.67 47.3V51.7M194.77 268.5V264.1M194.77 47.3V51.7M215.78 268.5V264.1M215.78 47.3V51.7M232.96 268.5V264.1M232.96 47.3V51.7M247.47 268.5V264.1M247.47 47.3V51.7M260.05 268.5V264.1M260.05 47.3V51.7M271.14 268.5V264.1M271.14 47.3V51.7M346.35 268.5V264.1M346.35 47.3V51.7M384.54 268.5V264.1M384.54 47.3V51.7M411.63 268.5V264.1M411.63 47.3V51.7M432.65 268.5V264.1M432.65 47.3V51.7M449.82 268.5V264.1M449.82 47.3V51.7M464.34 268.5V264.1M464.34 47.3V51.7M476.92 268.5V264.1M476.92 47.3V51.7M488.01 268.5V264.1M488.01 47.3V51.7M563.22 268.5V264.1M563.22 47.3V51.7M601.41 268.5V264.1M601.41 47.3V51.7M628.5 268.5V264.1M628.5 47.3V51.7M649.52 268.5V264.1M649.52 47.3V51.7M666.69 268.5V264.1M666.69 47.3V51.7M681.21 268.5V264.1M681.21 47.3V51.7M693.78 268.5V264.1M693.78 47.3V51.7M704.88 268.5V264.1M704.88 47.3V51.7M780.08 268.5V264.1M780.08 47.3V51.7M281.07 534.3V525.5M281.07 313V321.8M497.93 534.3V525.5M497.93 313V321.8M714.8 534.3V525.5M714.8 313V321.8M167.67 534.3V529.9M167.67 313V317.4M194.77 534.3V529.9M194.77 313V317.4M215.78 534.3V529.9M215.78 313V317.4M232.96 534.3V529.9M232.96 313V317.4M247.47 534.3V529.9M247.47 313V317.4M260.05 534.3V529.9M260.05 313V317.4M271.14 534.3V529.9M271.14 313V317.4M346.35 534.3V529.9M346.35 313V317.4M384.54 534.3V529.9M384.54 313V317.4M411.63 534.3V529.9M411.63 313V317.4M432.65 534.3V529.9M432.65 313V317.4M449.82 534.3V529.9M449.82 313V317.4M464.34 534.3V529.9M464.34 313V317.4M476.92 534.3V529.9M476.92 313V317.4M488.01 534.3V529.9M488.01 313V317.4M563.22 534.3V529.9M563.22 313V317.4M601.41 534.3V529.9M601.41 313V317.4M628.5 534.3V529.9M628.5 313V317.4M649.52 534.3V529.9M649.52 313V317.4M666.69 534.3V529.9M666.69 313V317.4M681.21 534.3V529.9M681.21 313V317.4M693.78 534.3V529.9M693.78 313V317.4M704.88 534.3V529.9M704.88 313V317.4M780.08 534.3V529.9M780.08 313V317.4M150.5 268.5H159.3M801.1 268.5H792.3M150.5 260.18H154.9M801.1 260.18H796.7M150.5 251.85H154.9M801.1 251.85H796.7M150.5 246.98H154.9M801.1 246.98H796.7M150.5 243.53H154.9M801.1 243.53H796.7M150.5 240.85H159.3M801.1 240.85H792.3M150.5 232.53H154.9M801.1 232.53H796.7M150.5 224.2H154.9M801.1 224.2H796.7M150.5 219.33H154.9M801.1 219.33H796.7M150.5 215.88H154.9M801.1 215.88H796.7M150.5 213.2H159.3M801.1 213.2H792.3M150.5 204.88H154.9M801.1 204.88H796.7M150.5 196.55H154.9M801.1 196.55H796.7M150.5 191.68H154.9M801.1 191.68H796.7M150.5 188.23H154.9M801.1 188.23H796.7M150.5 185.55H159.3M801.1 185.55H792.3M150.5 177.23H154.9M801.1 177.23H796.7M150.5 168.9H154.9M801.1 168.9H796.7M150.5 164.03H154.9M801.1 164.03H796.7M150.5 160.58H154.9M801.1 160.58H796.7M150.5 157.9H159.3M801.1 157.9H792.3M150.5 149.58H154.9M801.1 149.58H796.7M150.5 141.25H154.9M801.1 141.25H796.7M150.5 136.38H154.9M801.1 136.38H796.7M150.5 132.93H154.9M801.1 132.93H796.7M150.5 130.25H159.3M801.1 130.25H792.3M150.5 121.93H154.9M801.1 121.93H796.7M150.5 113.6H154.9M801.1 113.6H796.7M150.5 108.73H154.9M801.1 108.73H796.7M150.5 105.28H154.9M801.1 105.28H796.7M150.5 102.6H159.3M801.1 102.6H792.3M150.5 94.28H154.9M801.1 94.28H796.7M150.5 85.95H154.9M801.1 85.95H796.7M150.5 81.08H154.9M801.1 81.08H796.7M150.5 77.63H154.9M801.1 77.63H796.7M150.5 74.95H159.3M801.1 74.95H792.3M150.5 66.63H154.9M801.1 66.63H796.7M150.5 58.3H154.9M801.1 58.3H796.7M150.5 53.43H154.9M801.1 53.43H796.7M150.5 49.98H154.9M801.1 49.98H796.7M150.5 47.3H159.3M801.1 47.3H792.3M150.5 534.3H154.9M801.1 534.3H796.7M150.5 528.13H154.9M801.1 528.13H796.7M150.5 523.09H154.9M801.1 523.09H796.7M150.5 518.83H154.9M801.1 518.83H796.7M150.5 515.14H154.9M801.1 515.14H796.7M150.5 511.89H154.9M801.1 511.89H796.7M150.5 508.97H159.3M801.1 508.97H792.3M150.5 489.81H154.9M801.1 489.81H796.7M150.5 478.61H154.9M801.1 478.61H796.7M150.5 470.66H154.9M801.1 470.66H796.7M150.5 464.49H154.9M801.1 464.49H796.7M150.5 459.45H154.9M801.1 459.45H796.7M150.5 455.19H154.9M801.1 455.19H796.7M150.5 451.5H154.9M801.1 451.5H796.7M150.5 448.24H154.9M801.1 448.24H796.7M150.5 445.33H159.3M801.1 445.33H792.3M150.5 426.17H154.9M801.1 426.17H796.7M150.5 414.96H154.9M801.1 414.96H796.7M150.5 407.01H154.9M801.1 407.01H796.7M150.5 400.84H154.9M801.1 400.84H796.7M150.5 395.8H154.9M801.1 395.8H796.7M150.5 391.54H154.9M801.1 391.54H796.7M150.5 387.85H154.9M801.1 387.85H796.7M150.5 384.6H154.9M801.1 384.6H796.7M150.5 381.68H159.3M801.1 381.68H792.3M150.5 362.53H154.9M801.1 362.53H796.7M150.5 351.32H154.9M801.1 351.32H796.7M150.5 343.37H154.9M801.1 343.37H796.7M150.5 337.2H154.9M801.1 337.2H796.7M150.5 332.16H154.9M801.1 332.16H796.7M150.5 327.9H154.9M801.1 327.9H796.7M150.5 324.21H154.9M801.1 324.21H796.7M150.5 320.95H154.9M801.1 320.95H796.7M150.5 318.04H159.3M801.1 318.04H792.3" stroke="#000" stroke-width="1.3" fill="none"/>
<rect x="150.5" y="47.3" width="650.6" height="221.2" fill="none" stroke="#000" stroke-width="2.3"/>
<rect x="150.5" y="313" width="650.6" height="221.3" fill="none" stroke="#000" stroke-width="2.3"/>
<text x="87.38" y="55.4" font-size="26.3">10</text>
<text x="117.44" y="41.9" font-size="18.4">-2</text>
<text x="87.38" y="83.05" font-size="26.3">10</text>
<text x="117.44" y="69.55" font-size="18.4">-3</text>
<text x="87.38" y="110.7" font-size="26.3">10</text>
<text x="117.44" y="97.2" font-size="18.4">-4</text>
<text x="87.38" y="138.35" font-size="26.3">10</text>
<text x="117.44" y="124.85" font-size="18.4">-5</text>
<text x="87.38" y="166" font-size="26.3">10</text>
<text x="117.44" y="152.5" font-size="18.4">-6</text>
<text x="87.38" y="193.65" font-size="26.3">10</text>
<text x="117.44" y="180.15" font-size="18.4">-7</text>
<text x="87.38" y="221.3" font-size="26.3">10</text>
<text x="117.44" y="207.8" font-size="18.4">-8</text>
<text x="87.38" y="248.95" font-size="26.3">10</text>
<text x="117.44" y="235.45" font-size="18.4">-9</text>
<text x="78.05" y="276.6" font-size="26.3">10</text>
<text x="108.1" y="263.1" font-size="18.4">-10</text>
<text x="93.61" y="326.14" font-size="26.3">10</text>
<text x="123.67" y="312.64" font-size="18.4">1</text>
<text x="93.61" y="389.78" font-size="26.3">10</text>
<text x="123.67" y="376.28" font-size="18.4">0</text>
<text x="87.48" y="453.43" font-size="26.3">10</text>
<text x="117.54" y="439.93" font-size="18.4">-1</text>
<text x="87.48" y="517.07" font-size="26.3">10</text>
<text x="117.54" y="503.57" font-size="18.4">-2</text>
<text x="251.97" y="567" font-size="26.3">10</text>
<text x="282.02" y="553.5" font-size="18.4">13</text>
<text x="468.83" y="567" font-size="26.3">10</text>
<text x="498.89" y="553.5" font-size="18.4">14</text>
<text x="685.7" y="567" font-size="26.3">10</text>
<text x="715.76" y="553.5" font-size="18.4">15</text>
<path d="M88.49 52.54h5.36v4.56h-5.36zM96.47 52.54h5.15v4.56h-5.15zM88.49 80.19h5.36v4.56h-5.36zM96.47 80.19h5.15v4.56h-5.15zM88.49 107.84h5.36v4.56h-5.36zM96.47 107.84h5.15v4.56h-5.15zM88.49 135.49h5.36v4.56h-5.36zM96.47 135.49h5.15v4.56h-5.15zM88.49 163.14h5.36v4.56h-5.36zM96.47 163.14h5.15v4.56h-5.15zM88.49 190.79h5.36v4.56h-5.36zM96.47 190.79h5.15v4.56h-5.15zM88.49 218.44h5.36v4.56h-5.36zM96.47 218.44h5.15v4.56h-5.15zM88.49 246.09h5.36v4.56h-5.36zM96.47 246.09h5.15v4.56h-5.15zM79.15 273.74h5.36v4.56h-5.36zM87.14 273.74h5.15v4.56h-5.15zM114.73 260.83h3.98v3.97h-3.98zM120.63 260.83h3.83v3.97h-3.83zM94.71 323.27h5.36v4.56h-5.36zM102.7 323.27h5.15v4.56h-5.15zM124.17 310.36h3.98v3.97h-3.98zM130.07 310.36h3.83v3.97h-3.83zM94.71 386.92h5.36v4.56h-5.36zM102.7 386.92h5.15v4.56h-5.15zM88.59 450.56h5.36v4.56h-5.36zM96.57 450.56h5.15v4.56h-5.15zM124.17 437.65h3.98v3.97h-3.98zM130.07 437.65h3.83v3.97h-3.83zM88.59 514.21h5.36v4.56h-5.36zM96.57 514.21h5.15v4.56h-5.15zM253.07 564.14h5.36v4.56h-5.36zM261.05 564.14h5.15v4.56h-5.15zM282.52 551.23h3.98v3.97h-3.98zM288.43 551.23h3.83v3.97h-3.83zM469.94 564.14h5.36v4.56h-5.36zM477.92 564.14h5.15v4.56h-5.15zM499.39 551.23h3.98v3.97h-3.98zM505.29 551.23h3.83v3.97h-3.83zM686.8 564.14h5.36v4.56h-5.36zM694.79 564.14h5.15v4.56h-5.15zM716.26 551.23h3.98v3.97h-3.98zM722.16 551.23h3.83v3.97h-3.83z" fill="#fff" stroke="none"/>
<g transform="translate(57.4,231) rotate(-90)">
<text class="s" transform="translate(-0.61,0) scale(0.962,1.004)" font-size="32">d</text>
<text class="i" transform="translate(16.22,0) scale(1.293,1.000)" font-size="32">n</text>
<path d="M38.4 7.4L50 -24.4" stroke="#000" stroke-width="1.35" fill="none"/>
<text class="s" transform="translate(52.08,0) scale(0.969,1.004)" font-size="32">d</text>
<text class="s" transform="translate(68.33,0) scale(0.894,1.004)" font-size="32">l</text>
<text class="s" transform="translate(76.56,0) scale(1.143,1.000)" font-size="32">n</text>
<text class="i" transform="translate(98.6,0) scale(1.067,1.031)" font-size="32">M</text>
<text class="i" transform="translate(127.14,7.3) scale(1.068,1.000)" font-size="22.4">h</text>
</g>
<g transform="translate(66.3,476) rotate(-90)">
<path d="M9.5 -30.6L0.7 -11.3L9.5 7.4" stroke="#000" stroke-width="1.35" fill="none"/>
<text class="i" transform="translate(13.31,0) scale(0.898,1.031)" font-size="32">N</text>
<text class="s" transform="translate(35.83,0.67) scale(1.194,1.147)" font-size="30">(</text>
<text class="i" transform="translate(49.4,0) scale(1.074,1.031)" font-size="32">M</text>
<text class="s" transform="translate(79.81,0.67) scale(1.129,1.147)" font-size="30">)</text>
<path d="M95.2 -30.6L104 -11.3L95.2 7.4" stroke="#000" stroke-width="1.35" fill="none"/>
</g>
<text class="i" transform="translate(391.09,614.4) scale(1.042,1.012)" font-size="32">M</text>
<path d="M450.2 591.2H445.9V621.7H450.2M554 591.2H558.3V621.7H554" stroke="#000" stroke-width="1.35" fill="none"/>
<text class="i" transform="translate(450.88,614.4) scale(1.139,1.036)" font-size="32">h</text>
<path d="M470.8 595.3H485.2" stroke="#000" stroke-width="1.3" fill="none"/>
<text class="s" transform="translate(486.6,600.6) scale(0.812,0.920)" font-size="22.4">1</text>
<text class="s" transform="translate(501.63,614.4) scale(1.049,1.007)" font-size="32">M</text>
<circle cx="543.4" cy="617.2" r="6.8" stroke="#000" stroke-width="1.25" fill="none"/>
<circle cx="543.4" cy="617.2" r="1.6" fill="#000"/>
<circle cx="201.2" cy="192" r="3.9" fill="#000"/>
<text x="249.9" y="200.7" font-size="26.8" letter-spacing="0.12">SubFind haloes</text>
<path d="M174.2 228.4H228.6" stroke="#808080" stroke-width="2.5" stroke-dasharray="13.5 13.5" fill="none"/>
<text x="251.6" y="237.8" font-size="26.8" letter-spacing="0.08">Tinker et al.</text>
<path d="M412.5 448.6H451.1" stroke="#0000ff" stroke-width="2.5" stroke-dasharray="14 13.3" fill="none"/>
<path d="M412.5 491.4H451.1" stroke="#008000" stroke-width="2.5" stroke-dasharray="7.2 11.4 2.4 11.2" fill="none"/>
<path d="M638.1 448.6H678.6" stroke="#ff0000" stroke-width="2.5" fill="none"/>
<text class="i" transform="translate(482.13,458.2) scale(1.201,1.034)" font-size="26">N</text>
<text class="s" transform="translate(502.04,465.5) scale(1.135,1.000)" font-size="17.5">cen</text>
<text class="s" transform="translate(531.26,459.09) scale(0.990,1.254)" font-size="24">(</text>
<text class="i" transform="translate(541.25,458.2) scale(1.162,1.034)" font-size="26">M</text>
<text class="s" transform="translate(567.23,459.09) scale(0.990,1.254)" font-size="24">)</text>
<text class="i" transform="translate(482.13,501) scale(1.201,1.034)" font-size="26">N</text>
<text class="s" transform="translate(501.91,508.3) scale(1.235,1.000)" font-size="17.5">sat</text>
<text class="s" transform="translate(527.86,501.89) scale(0.990,1.254)" font-size="24">(</text>
<text class="i" transform="translate(538.15,501) scale(1.140,1.034)" font-size="26">M</text>
<text class="s" transform="translate(564.22,501.89) scale(1.006,1.254)" font-size="24">)</text>
<text class="i" transform="translate(708.91,458.2) scale(1.115,1.034)" font-size="26">N</text>
<text class="s" transform="translate(730.24,459.09) scale(1.006,1.254)" font-size="24">(</text>
<text class="i" transform="translate(740.16,458.2) scale(1.175,1.034)" font-size="26">M</text>
<text class="s" transform="translate(767.02,459.09) scale(1.006,1.254)" font-size="24">)</text>
</svg></body></html>
